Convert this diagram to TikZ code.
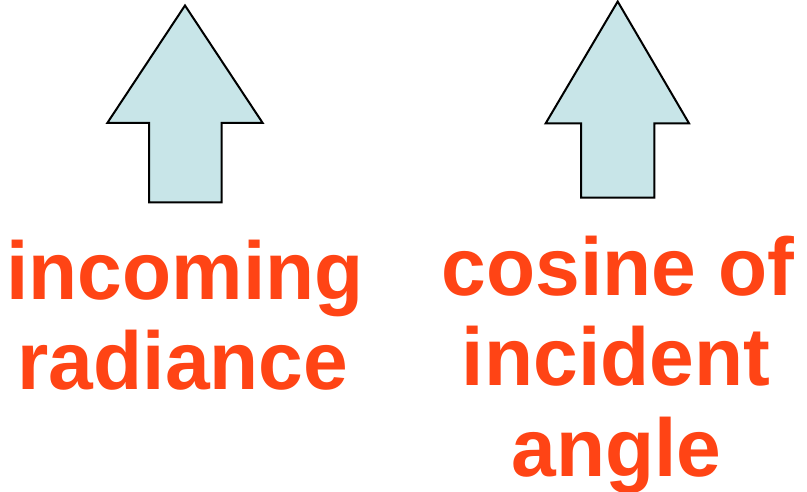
\documentclass[tikz,border=0pt]{standalone}
\usepackage{fontspec}
\setmainfont{Liberation Sans}
\definecolor{arrowfill}{RGB}{200,229,232}
\definecolor{labelred}{RGB}{255,68,21}
\tikzset{
  blockarrow/.style={draw=black, fill=arrowfill, line width=2pt, line join=miter},
  label/.style={text=labelred, font=\fontsize{82}{90}\selectfont\bfseries, anchor=base, inner sep=0pt, xscale=0.98}
}
\begin{document}
\begin{tikzpicture}[x=1pt,y=-1pt]
\useasboundingbox[fill=white] (0,0) rectangle (807,492);
% left arrow
\draw[blockarrow] (185,5.5) -- (262.7,123) -- (221.7,123) -- (221.7,202.3) -- (149,202.3) -- (149,123) -- (107.3,123) -- cycle;
% right arrow
\draw[blockarrow] (617.7,1.5) -- (689,123.3) -- (654.3,123.3) -- (654.3,197.7) -- (581,197.7) -- (581,123.3) -- (545.7,123.3) -- cycle;
% labels
\node[label] (l1) at (185,299) {incoming};
\node[label] (l2) at (183,389) {radiance};
\node[label] (r1) at (618,295) {cosine of};
\node[label] (r2) at (616,385.7) {incident};
\node[label] (r3) at (616.5,476.5) {angle};
\end{tikzpicture}
\end{document}
